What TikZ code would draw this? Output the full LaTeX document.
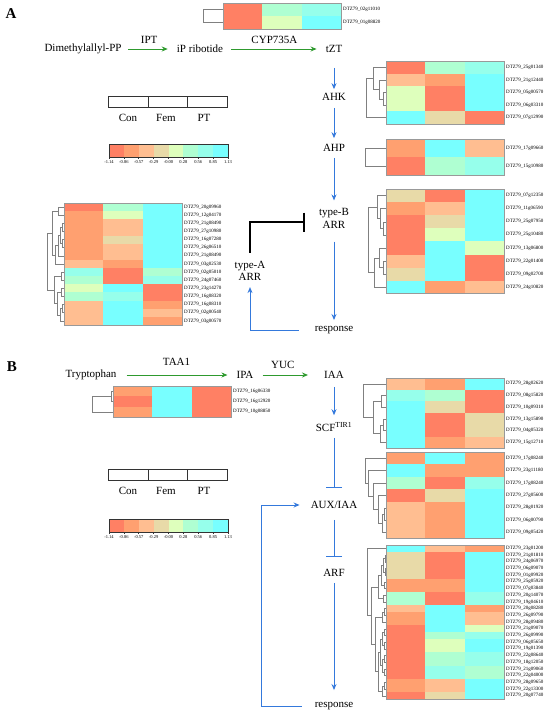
\documentclass[tikz,border=0pt]{standalone}
\usepackage{fontspec}
\setmainfont{Liberation Serif}
\usetikzlibrary{arrows.meta}

\definecolor{hA}{HTML}{FF8064}
\definecolor{hB}{HTML}{FFA070}
\definecolor{hC}{HTML}{FFBE91}
\definecolor{hD}{HTML}{E8DAA8}
\definecolor{hE}{HTML}{DEFFBC}
\definecolor{hF}{HTML}{AFFFD2}
\definecolor{hG}{HTML}{96FFEB}
\definecolor{hH}{HTML}{78FFFF}
\definecolor{pathblue}{HTML}{3479DC}
\definecolor{pathgreen}{HTML}{2E9A2E}

\tikzset{
  pathlbl/.style={font=\fontsize{11}{12.5}\selectfont, inner sep=2pt, align=center, text=black},
  panel/.style={font=\fontsize{15}{15}\selectfont\bfseries, inner sep=0pt},
  gene/.style={font=\fontsize{5}{5}\selectfont, anchor=west, inner sep=0pt},
  tick/.style={font=\fontsize{4.5}{4.5}\selectfont, inner sep=0pt},
  garrow/.style={pathgreen, line width=1pt, -{Stealth[length=6pt,width=5pt]}},
  barrow/.style={pathblue, line width=1pt, -{Stealth[length=6pt,width=5pt]}},
  binhib/.style={pathblue, line width=1pt, -{Bar[width=16pt]}},
  kinhib/.style={black, line width=1.6pt, -{Bar[width=19pt]}},
  hmframe/.style={draw=gray!80, line width=0.8pt},
  dendro/.style={draw=gray, line width=0.5pt},
  keybox/.style={draw=black!80, line width=0.7pt},
}

% heatmap: x, y, row height, rows, name, colour/colour/colour/gene list
\newcommand{\hmap}[6]{%
  \foreach \ca/\cb/\cc/\gid [count=\ri] in {#6}{
    \fill[fill=\ca] (#1,{#2+(\ri-1)*#3}) rectangle +(39.33,#3);
    \fill[fill=\cb] ({#1+39.33},{#2+(\ri-1)*#3}) rectangle +(39.33,#3);
    \fill[fill=\cc] ({#1+78.66},{#2+(\ri-1)*#3}) rectangle +(39.34,#3);
    \node[gene] (#5\ri) at ({#1+120},{#2+(\ri-0.5)*#3}) {DTZ79\_\gid};
  }
  \draw[hmframe] (#1,#2) rectangle +(118,{#4*#3});
}
\newcommand{\dbr}[5]{\draw[dendro] (#1,#2) -- (#5,#2) -- (#5,#4) -- (#3,#4);}
\newcommand{\cbar}[2]{%
  \foreach \hc [count=\ci from 0] in {hA,hB,hC,hD,hE,hF,hG,hH}
    \fill[fill=\hc] ({109+\ci*14.875},#1) rectangle +(14.875,13);
  \draw[keybox] (109,#1) rectangle +(119,13);
  \foreach \tv [count=\ci from 0] in {-1.14,-0.86,-0.57,-0.29,-0.00,0.28,0.56,0.85,1.13}{
    \draw[keybox] ({109+\ci*14.875},{#1+13}) -- +(0,2);
    \node[tick] (#2\ci) at ({109+\ci*14.875},{#1+18.5}) {\tv};
  }
}

\begin{document}
\begin{tikzpicture}[x=1pt,y=-1pt]
\useasboundingbox (0,0) rectangle (550,715);

% panel A
\node[panel] (pa) at (11,14) {A};
\node[pathlbl] (dmapp) at (83,49) {Dimethylallyl-PP};
\node[pathlbl] (ipr) at (200,49) {iP ribotide};
\node[pathlbl] (tzt) at (334,49) {tZT};
\node[pathlbl] (ahk) at (334,97) {AHK};
\node[pathlbl] (ahp) at (334,148) {AHP};
\node[pathlbl] (typeb) at (334,218.5) {type-B\\ARR};
\node[pathlbl] (typea) at (250,271) {type-A\\ARR};
\node[pathlbl] (respa) at (334,330) {response};

\draw[garrow, shorten <=4.5pt, shorten >=7pt] (dmapp) -- node[pathlbl, above=4pt, inner sep=1pt] (ipt) {IPT} (ipr);
\draw[garrow, shorten <=6pt, shorten >=7pt] (ipr) -- node[pathlbl, above=4pt, inner sep=1pt] (cyp) {CYP735A} (tzt);
\draw[barrow, shorten <=13pt, shorten >=2pt] (tzt) -- (ahk);
\draw[barrow, shorten <=5pt, shorten >=4pt] (ahk) -- (ahp);
\draw[barrow, shorten <=4pt, shorten >=6pt] (ahp) -- (typeb);
\draw[barrow, shorten <=11pt, shorten >=4pt] (typeb) -- (respa);
\draw[barrow, shorten >=4pt] ([xshift=-14pt]respa.west) -| (typea.south);
\draw[kinhib, shorten <=6pt, shorten >=12pt] (typea.north) |- ([yshift=-3.5pt]typeb.west);

\draw[keybox] (108,96) rectangle (227,107);
\draw[keybox] (148,96) -- (148,107);
\draw[keybox] (187,96) -- (187,107);
\node[pathlbl] (cona) at (128,118) {Con};
\node[pathlbl] (fema) at (166,118) {Fem};
\node[pathlbl] (pta) at (204,118) {PT};
\cbar{144}{ta}

\hmap{223}{3}{13}{2}{gcyp}{hA/hF/hG/02g11010,hA/hE/hH/01g08820}
\dbr{223}{9.5}{223}{22.5}{203}

\hmap{386}{61}{12.6}{5}{gahk}{hA/hF/hG/25g01340,
  hC/hB/hH/21g12440,hE/hA/hH/05g00570,hE/hA/hH/06g03310,hH/hD/hA/07g12990}
\dbr{386}{92.5}{386}{105.1}{383}
\dbr{386}{79.9}{383}{98.8}{379}
\dbr{386}{67.3}{379}{89.4}{373}
\dbr{373}{78.3}{386}{117.7}{366}

\hmap{386}{139}{18}{2}{gahp}{hB/hH/hC/17g09660,hA/hF/hG/15g10980}
\dbr{386}{148}{386}{166}{365}

\hmap{386}{189}{13.1}{8}{gtb}{hD/hA/hH/07g12350,
  hB/hC/hH/11g06590,hA/hD/hH/25g07950,hA/hE/hH/25g10480,hA/hH/hE/13g06800,
  hC/hH/hA/22g01400,hD/hH/hA/09g02700,hH/hB/hC/24g10820}
\dbr{386}{221.8}{386}{234.9}{383}
\dbr{386}{208.7}{383}{228.4}{380}
\dbr{386}{195.6}{380}{218.5}{377}
\dbr{386}{261.1}{386}{274.2}{383}
\dbr{386}{248}{383}{267.7}{379}
\dbr{379}{257.8}{386}{287.3}{374}
\dbr{377}{207}{374}{272.6}{368}

\hmap{64}{203}{8.13}{15}{gta}{hA/hF/hH/20g09960,
  hB/hE/hH/12g04170,hB/hC/hH/21g08490,hB/hC/hH/27g10980,hB/hD/hH/16g07280,
  hB/hC/hH/26g06510,hB/hC/hH/21g08490,hC/hB/hH/03g02530,hG/hA/hF/02g05010,
  hF/hA/hG/24g07460,hE/hH/hA/23g14270,hF/hG/hA/16g08320,hC/hH/hB/16g08310,
  hC/hH/hC/02g00540,hC/hH/hB/03g00570}
\dbr{64}{223.3}{64}{231.5}{62}
\dbr{64}{239.6}{64}{247.7}{62}
\dbr{62}{227.4}{62}{243.7}{60}
\dbr{60}{235.5}{64}{255.8}{58}
\dbr{58}{245.7}{64}{264.0}{55}
\dbr{64}{207.1}{64}{215.2}{58}
\dbr{58}{211.2}{55}{254.8}{52}
\dbr{64}{272.1}{64}{280.2}{61}
\dbr{64}{288.4}{64}{296.5}{61}
\dbr{64}{304.6}{64}{312.7}{62}
\dbr{62}{308.7}{64}{320.9}{60}
\dbr{61}{292.4}{60}{314.8}{57}
\dbr{61}{276.2}{57}{303.6}{54}
\dbr{52}{233}{54}{289.9}{47}

% panel B
\node[panel] (pb) at (12,367) {B};
\node[pathlbl] (trp) at (91,375) {Tryptophan};
\node[pathlbl] (ipa) at (245,375) {IPA};
\node[pathlbl] (iaa) at (334,375) {IAA};
\node[pathlbl] (scf) at (334,427) {SCF\textsuperscript{TIR1}};
\node[pathlbl] (aux) at (334,505) {AUX/IAA};
\node[pathlbl] (arf) at (334,573) {ARF};
\node[pathlbl] (respb) at (334,706) {response};

\draw[garrow, shorten <=8pt, shorten >=7pt] (trp) -- node[pathlbl, above=8pt, inner sep=1pt] (taa) {TAA1} (ipa);
\draw[garrow, shorten <=7pt, shorten >=14pt] (ipa) -- node[pathlbl, above=5pt, inner sep=1pt, xshift=-6pt] (yuc) {YUC} (iaa);
\draw[barrow, shorten <=6pt, shorten >=5pt] (iaa) -- (scf);
\draw[binhib, shorten <=4pt, shorten >=11pt] (scf) -- (aux);
\draw[binhib, shorten <=9pt, shorten >=10pt] (aux) -- (arf);
\draw[barrow, shorten <=4pt, shorten >=10pt] (arf) -- (respb);
\draw[barrow, shorten >=9pt] ([xshift=-11pt]respb.west) -- ([xshift=-51pt]respb.west) |- (aux.west);

\draw[keybox] (108,469) rectangle (227,480);
\draw[keybox] (148,469) -- (148,480);
\draw[keybox] (187,469) -- (187,480);
\node[pathlbl] (conb) at (128,491) {Con};
\node[pathlbl] (femb) at (166,491) {Fem};
\node[pathlbl] (ptb) at (204,491) {PT};
\cbar{519}{tb}

\hmap{113}{386}{10.3}{3}{gtaa}{hB/hH/hA/16g06330,hA/hH/hA/16g12920,hB/hH/hA/10g08850}
\dbr{113}{391.2}{113}{401.5}{111}
\dbr{111}{396.3}{113}{411.8}{92}

\hmap{386}{378}{11.7}{6}{gscf}{hC/hB/hH/28g02620,
  hG/hF/hA/08g15820,hH/hD/hA/10g09310,hH/hA/hD/13g15890,hH/hA/hD/04g05320,
  hH/hB/hC/15g12710}
\dbr{386}{395.6}{386}{407.3}{381}
\dbr{386}{419}{386}{430.7}{383}
\dbr{383}{424.9}{386}{442.4}{380}
\dbr{381}{401.5}{380}{433.6}{373}
\dbr{386}{383.9}{373}{417.6}{363}

\hmap{386}{452}{12.4}{7}{gaux}{hB/hH/hB/17g08240,
  hH/hB/hB/23g11180,hF/hA/hG/17g08240,hA/hD/hH/27g05600,hC/hB/hH/28g01920,
  hC/hB/hH/06g00790,hC/hB/hH/09g05420}
\dbr{386}{507.8}{386}{520.2}{384}
\dbr{384}{514}{386}{532.6}{382}
\dbr{386}{495.4}{382}{523.3}{378}
\dbr{386}{483}{378}{509.4}{373}
\dbr{386}{470.6}{373}{496.2}{368}
\dbr{386}{458.2}{368}{483.4}{365}

\hmap{386}{545}{6.7}{23}{garf}{hH/hC/hB/23g01200,
  hD/hA/hH/21g01810,hD/hA/hH/24g06970,hD/hA/hH/06g09070,hD/hA/hH/01g09920,
  hB/hB/hH/25g05920,hB/hB/hH/07g03840,hF/hA/hG/20g14070,hF/hA/hG/19g04610,
  hC/hH/hB/20g08280,hB/hH/hC/26g09790,hB/hH/hC/28g09480,hA/hH/hE/21g09070,
  hA/hF/hG/26g09990,hA/hE/hH/06g05650,hA/hE/hH/19g01390,hA/hF/hG/22g08640,
  hA/hF/hG/18g12050,hA/hG/hF/21g09060,hA/hG/hF/22g04000,hB/hC/hH/28g09650,
  hB/hC/hH/22g13300,hA/hD/hH/20g07740}
\dbr{386}{555.1}{386}{561.8}{385}
\dbr{386}{568.5}{386}{575.2}{385}
\dbr{385}{558.5}{385}{571.9}{383}
\dbr{386}{581.9}{386}{588.6}{384}
\dbr{383}{565.2}{384}{585.3}{381}
\dbr{386}{595.3}{386}{602}{383}
\dbr{381}{575.2}{383}{598.7}{378}
\dbr{386}{608.7}{386}{615.4}{384}
\dbr{384}{612}{386}{622.1}{382}
\dbr{386}{628.8}{386}{635.5}{384}
\dbr{386}{642.2}{386}{648.9}{384}
\dbr{384}{632.2}{384}{645.6}{382}
\dbr{386}{655.6}{386}{662.3}{384}
\dbr{386}{669}{386}{675.7}{384}
\dbr{384}{659}{384}{672.4}{382}
\dbr{382}{638.9}{382}{665.7}{380}
\dbr{386}{682.4}{386}{689.1}{384}
\dbr{384}{685.8}{386}{695.8}{382}
\dbr{380}{652.3}{382}{690.8}{378}
\dbr{382}{617}{378}{671.5}{375}
\dbr{378}{587}{375}{644.3}{371}
\dbr{386}{548.4}{371}{615.6}{367}
\end{tikzpicture}
\end{document}
